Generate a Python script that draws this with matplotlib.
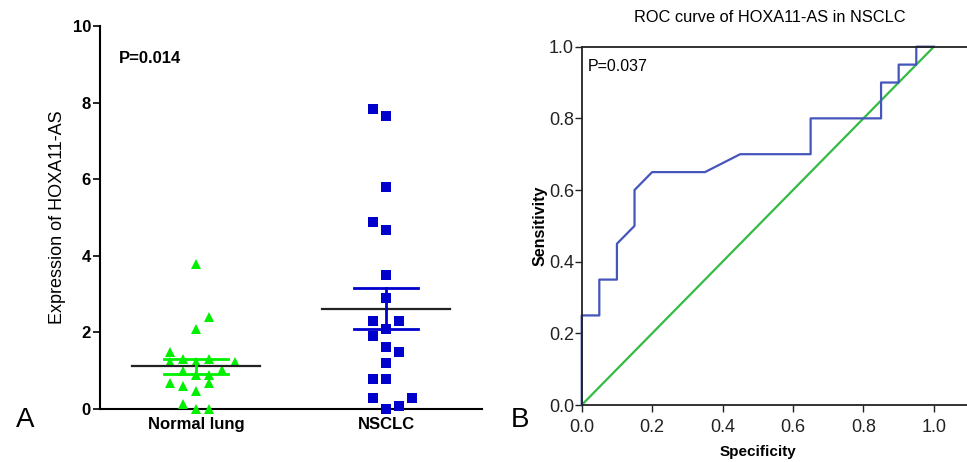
import numpy as np
import matplotlib.pyplot as plt

plt.rcParams["font.family"] = ["Liberation Sans", "DejaVu Sans"]

# Panel A: expression values
groups = ["Normal lung", "NSCLC"]
normal_vals = [3.79, 2.39, 2.09, 1.50, 1.30, 1.30, 1.22, 1.24, 1.22, 0.98,
               1.01, 0.90, 0.90, 0.68, 0.59, 0.68, 0.46, 0.13, 0.0, 0.0]
normal_lane = [0, 1, 0, -2, -1, 1, -2, 0, 3, -1,
               2, 0, 1, -2, -1, 1, 0, -1, 0, 1]
nsclc_vals = [7.83, 7.65, 5.80, 4.89, 4.68, 3.50, 2.90, 2.30, 2.30, 2.10,
              1.90, 1.63, 1.50, 1.20, 0.79, 0.79, 0.29, 0.30, 0.07, 0.0]
nsclc_lane = [-1, 0, 0, -1, 0, 0, 0, -1, 1, 0,
              -1, 0, 1, 0, -1, 0, -1, 2, 1, 0]

# Panel B: ROC curve vertices
roc_x = [0, 0, 0.05, 0.05, 0.10, 0.10, 0.15, 0.15, 0.20, 0.35, 0.45, 0.65,
         0.65, 0.85, 0.85, 0.90, 0.90, 0.95, 0.95, 1.0]
roc_y = [0, 0.25, 0.25, 0.35, 0.35, 0.45, 0.50, 0.60, 0.65, 0.65, 0.70, 0.70,
         0.80, 0.80, 0.90, 0.90, 0.95, 0.95, 1.0, 1.0]

fig = plt.figure(figsize=(9.67, 4.62), dpi=100)

# ---- panel A ----
ax1 = fig.add_axes([100 / 967, 53 / 462, 382 / 967, 383 / 462])
step = 0.068
styles = [("^", "#00f000", 6.5), ("s", "#0000cc", 6.5)]
for i, (vals, lanes) in enumerate([(normal_vals, normal_lane), (nsclc_vals, nsclc_lane)]):
    marker, color, ms = styles[i]
    vals = np.array(vals)
    xs = i + step * np.array(lanes)
    ax1.plot(xs, vals, linestyle="none", marker=marker, color=color, ms=ms,
             markeredgewidth=0, clip_on=False, zorder=3)
    m = vals.mean()
    sem = vals.std(ddof=1) / np.sqrt(len(vals))
    ax1.plot([i - 0.335, i + 0.335], [m, m], color="#222222", lw=1.6, zorder=4)
    ax1.plot([i - 0.17, i + 0.17], [m + sem, m + sem], color=color, lw=2, zorder=4)
    ax1.plot([i - 0.17, i + 0.17], [m - sem, m - sem], color=color, lw=2, zorder=4)
    ax1.plot([i, i], [m - sem, m + sem], color=color, lw=2, zorder=4)

ax1.set_xlim(-0.505, 1.505)
ax1.set_ylim(0, 10)
ax1.set_yticks([0, 2, 4, 6, 8, 10])
ax1.set_xticks([0, 1])
ax1.set_xticklabels(groups, fontweight="bold", fontsize=12)
ax1.tick_params(axis="x", length=0, pad=6)
ax1.tick_params(axis="y", length=5, width=1.2, labelsize=12, pad=1.5)
for lab in ax1.get_yticklabels():
    lab.set_fontweight("bold")
for s in ["top", "right"]:
    ax1.spines[s].set_visible(False)
for s in ["left", "bottom"]:
    ax1.spines[s].set_linewidth(1.5)
ax1.set_ylabel("Expression of HOXA11-AS", fontsize=13, va="center")
ax1.yaxis.set_label_coords(-0.11, 0.5)
ax1.text(0.05, 0.915, "P=0.014", transform=ax1.transAxes, fontweight="bold",
         fontsize=12, va="center")
fig.text(25 / 967, 1 - 420 / 462, "A", fontsize=20, ha="center", va="center")

# ---- panel B ----
ax2 = fig.add_axes([581.7 / 967, 57 / 462, 385.3 / 967, 358.3 / 462])
ax2.plot([0, 1], [0, 1], color="#33bb44", lw=1.6)
ax2.plot(roc_x, roc_y, color="#4455bb", lw=1.6, clip_on=False)
ax2.set_xlim(0, 1.094)
ax2.set_ylim(0, 1.0)
ax2.set_xticks([0, 0.2, 0.4, 0.6, 0.8, 1.0])
ax2.set_yticks([0, 0.2, 0.4, 0.6, 0.8, 1.0])
ax2.xaxis.set_major_formatter(plt.FormatStrFormatter("%.1f"))
ax2.yaxis.set_major_formatter(plt.FormatStrFormatter("%.1f"))
ax2.tick_params(length=5, width=1, labelsize=13, colors="#222222")
ax2.tick_params(axis="x", pad=5)
ax2.tick_params(axis="y", pad=0.5)
ax2.spines["right"].set_visible(False)
for s in ["top", "left", "bottom"]:
    ax2.spines[s].set_linewidth(1.3)
    ax2.spines[s].set_color("#222222")
ax2.set_xlabel("Specificity", fontweight="bold", fontsize=11, va="center")
ax2.xaxis.set_label_coords(0.4576, -0.132)
ax2.set_ylabel("Sensitivity", fontweight="bold", fontsize=11.5, va="center")
ax2.yaxis.set_label_coords(-0.108, 0.5)
ax2.text(0.015, 0.945, "P=0.037", transform=ax2.transAxes, fontsize=11.5, va="center")
fig.text(770 / 967, 1 - 17 / 462, "ROC curve of HOXA11-AS in NSCLC", fontsize=11.8,
         ha="center", va="center")
fig.text(520 / 967, 1 - 420 / 462, "B", fontsize=20, ha="center", va="center")

fig.savefig("out.png", dpi=100)
